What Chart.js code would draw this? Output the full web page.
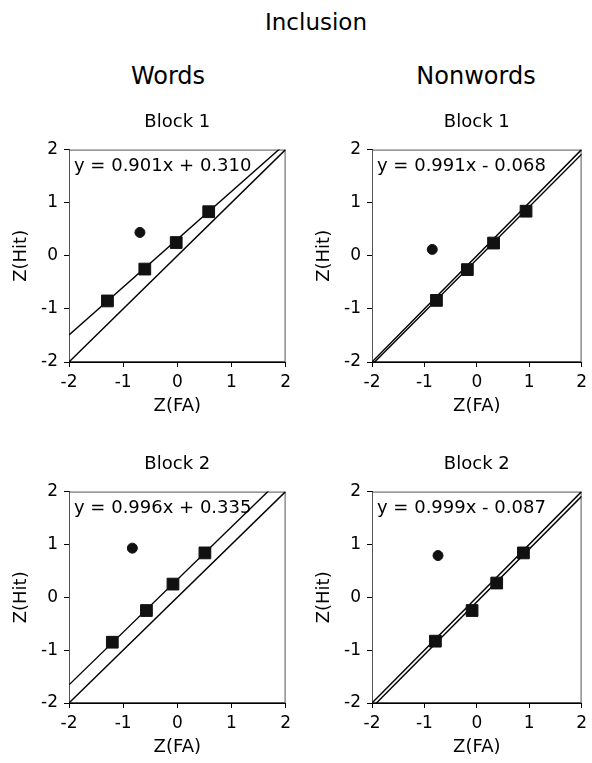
<!DOCTYPE html>
<html>
<head>
<meta charset="utf-8">
<script src="https://cdn.jsdelivr.net/npm/chart.js@4"></script>
<style>
  body { margin: 0; background: #fff; }
  #page { position: relative; width: 592px; height: 763px; font-family: "DejaVu Sans", sans-serif; color: #000; }
  .head { position: absolute; transform: translate(-50%, -50%); white-space: nowrap; }
  canvas { position: absolute; }
</style>
</head>
<body>
<div id="page">
  <div class="head" style="left:316px;top:22px;font-size:23px">Inclusion</div>
  <div class="head" style="left:168px;top:76px;font-size:24px">Words</div>
  <div class="head" style="left:476px;top:76px;font-size:24px">Nonwords</div>
  <canvas id="wordsB1" width="296" height="322" style="left:0;top:95px"></canvas>
  <canvas id="nonwordsB1" width="289" height="322" style="left:303px;top:95px"></canvas>
  <canvas id="wordsB2" width="296" height="321" style="left:0;top:437px"></canvas>
  <canvas id="nonwordsB2" width="289" height="321" style="left:303px;top:437px"></canvas>
</div>
<script>
// tick values shared by both axes
const axisTicks = [-2, -1, 0, 1, 2];

// squares (conditions) and the single circle
const wordsB1X = [-1.29, -0.60, -0.02, 0.58];
const wordsB1Y = [-0.85, -0.25, 0.25, 0.83];
const wordsB1Circle = [-0.69, 0.44];

const nonwordsB1X = [-0.77, -0.18, 0.32, 0.94];
const nonwordsB1Y = [-0.84, -0.26, 0.24, 0.84];
const nonwordsB1Circle = [-0.85, 0.12];

const wordsB2X = [-1.20, -0.57, -0.08, 0.51];
const wordsB2Y = [-0.85, -0.25, 0.25, 0.84];
const wordsB2Circle = [-0.83, 0.93];

const nonwordsB2X = [-0.79, -0.09, 0.38, 0.89];
const nonwordsB2Y = [-0.83, -0.25, 0.27, 0.84];
const nonwordsB2Circle = [-0.74, 0.79];

// fitted lines
const fitSlope = [0.901, 0.991, 0.996, 0.999];
const fitIntercept = [0.310, -0.068, 0.335, -0.087];
const fitLabels = ['y = 0.901x + 0.310', 'y = 0.991x - 0.068', 'y = 0.996x + 0.335', 'y = 0.999x - 0.087'];
const blockTitles = ['Block 1', 'Block 1', 'Block 2', 'Block 2'];

const FONT = '"DejaVu Sans", sans-serif';

const frameAndLabel = {
  id: 'frameAndLabel',
  beforeDatasetsDraw(chart) {
    const a = chart.chartArea, ctx = chart.ctx;
    ctx.save();
    ctx.strokeStyle = '#555';
    ctx.lineWidth = 1;
    ctx.strokeRect(a.left + 0.5, a.top + 0.5, a.right - a.left - 1, a.bottom - a.top - 1);
    ctx.restore();
  },
  afterDraw(chart, args, opts) {
    const a = chart.chartArea, ctx = chart.ctx;
    ctx.save();
    ctx.font = '18px ' + FONT;
    ctx.fillStyle = '#000';
    ctx.textBaseline = 'middle';
    ctx.fillText(opts.text, a.left + 5, a.top + 17);
    ctx.restore();
  }
};

function makePanel(id, i, xs, ys, circle, padRight) {
  const squares = xs.map((x, k) => ({ x: x, y: ys[k] }));
  const fit = [-2, 2].map(x => ({ x: x, y: fitSlope[i] * x + fitIntercept[i] }));
  const diag = [-2, 2].map(x => ({ x: x, y: x }));

  const axis = (title, isY) => ({
    type: 'linear',
    min: -2, max: 2,
    afterBuildTicks: s => { s.ticks = axisTicks.map(v => ({ value: v })); },
    afterFit: s => { if (isY) s.width = 69; else s.height = 55; },
    ticks: { color: '#000', font: { family: FONT, size: 17 }, padding: isY ? 6 : 5 },
    grid: { display: true, drawOnChartArea: false, drawTicks: true, tickLength: 5, color: '#000' },
    border: { display: true, color: '#000', width: 1 },
    title: {
      display: true, text: title, color: '#000',
      font: { family: FONT, size: 18 },
      padding: isY ? { top: 11, bottom: 0 } : { top: 0, bottom: 0 }
    }
  });

  new Chart(document.getElementById(id), {
    type: 'scatter',
    data: {
      datasets: [
        { data: squares, pointStyle: 'rect', pointRadius: 8.3, backgroundColor: '#111', borderColor: '#111', borderWidth: 1 },
        { data: [{ x: circle[0], y: circle[1] }], pointStyle: 'circle', pointRadius: 5, backgroundColor: '#111', borderColor: '#111', borderWidth: 1 },
        { type: 'line', data: fit, showLine: true, pointRadius: 0, borderColor: '#000', borderWidth: 1.4, fill: false },
        { type: 'line', data: diag, showLine: true, pointRadius: 0, borderColor: '#000', borderWidth: 1.4, fill: false }
      ]
    },
    options: {
      responsive: false,
      animation: false,
      devicePixelRatio: 1,
      layout: { padding: { left: 0, right: padRight, top: 0, bottom: 0 } },
      scales: { x: axis('Z(FA)', false), y: axis('Z(Hit)', true) },
      plugins: {
        legend: { display: false },
        tooltip: { enabled: false },
        title: {
          display: true, text: blockTitles[i], fullSize: false, color: '#000',
          font: { family: FONT, size: 18, weight: 'normal' },
          padding: { top: 17, bottom: 16 }
        },
        frameAndLabel: { text: fitLabels[i] }
      }
    },
    plugins: [frameAndLabel]
  });
}

makePanel('wordsB1', 0, wordsB1X, wordsB1Y, wordsB1Circle, 10);
makePanel('nonwordsB1', 1, nonwordsB1X, nonwordsB1Y, nonwordsB1Circle, 6);
makePanel('wordsB2', 2, wordsB2X, wordsB2Y, wordsB2Circle, 10);
makePanel('nonwordsB2', 3, nonwordsB2X, nonwordsB2Y, nonwordsB2Circle, 6);
</script>
</body>
</html>
